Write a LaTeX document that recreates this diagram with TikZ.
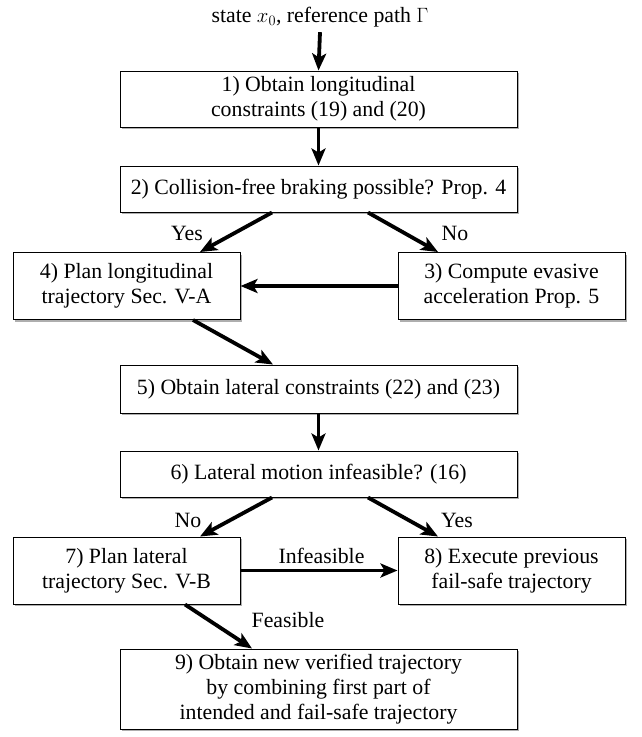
\documentclass[tikz,border=0pt]{standalone}
\usepackage{fontspec}
\setmainfont{Liberation Serif}
\usetikzlibrary{arrows.meta,shadows}
\begin{document}
\begin{tikzpicture}[x=1pt,y=-1pt,
  box/.style={draw, line width=1pt, fill=white, align=center, inner xsep=4pt, inner ysep=2pt,
    font=\fontsize{21.8}{24.8}\selectfont,
    drop shadow={shadow xshift=2.2pt, shadow yshift=-2.2pt, opacity=0.45, fill=black!70}},
  wide/.style={box, minimum width=397pt},
  half/.style={box, minimum width=227pt, minimum height=67pt},
  arr/.style={line width=3.8pt, -{Stealth[length=17pt,width=14pt,inset=4pt]}},
  lbl/.style={font=\fontsize{21.8}{24.8}\selectfont, inner sep=0pt}]
\useasboundingbox (0,0) rectangle (641,737);

\node[lbl] (t) at (320,17) {state $x_0$, reference path $\Gamma$};
\node[wide, minimum height=56pt] (b1) at (318.5,99) {1) Obtain longitudinal\\constraints (19) and (20)};
\node[wide, minimum height=46pt] (b2) at (318.5,189) {2) Collision-free braking possible? Prop. 4};
\node[half] (b4) at (126.5,286) {4) Plan longitudinal\\trajectory Sec. V-A};
\node[half] (b3) at (511.5,286) {3) Compute evasive\\acceleration Prop. 5};
\node[wide, minimum height=48pt] (b5) at (318.5,389) {5) Obtain lateral constraints (22) and (23)};
\node[wide, minimum height=46pt] (b6) at (318.5,474) {6) Lateral motion infeasible? (16)};
\node[half] (b7) at (126.5,570.5) {7) Plan lateral\\trajectory Sec. V-B};
\node[half] (b8) at (511.5,570.5) {8) Execute previous\\fail-safe trajectory};
\node[wide, minimum height=80pt] (b9) at (318.5,689) {9) Obtain new verified trajectory\\by combining first part of\\intended and fail-safe trajectory};

\draw[arr] ([yshift=-5pt]t.south) -- (b1.north);
\draw[arr] (b1.south) -- (b2.north);
\draw[arr] ([xshift=-46.5pt]b2.south) -- ([xshift=73.5pt]b4.north);
\draw[arr] ([xshift=49.5pt]b2.south) -- ([xshift=-73.5pt]b3.north);
\draw[arr] (b3.west) -- (b4.east);
\draw[arr] ([xshift=66.5pt]b4.south) -- ([xshift=-45.5pt]b5.north);
\draw[arr] (b5.south) -- (b6.north);
\draw[arr] ([xshift=-46.5pt]b6.south) -- ([xshift=73.5pt]b7.north);
\draw[arr] ([xshift=49.5pt]b6.south) -- ([xshift=-73.5pt]b8.north);
\draw[arr] (b7.east) -- (b8.west);
\draw[arr] ([xshift=58.5pt]b7.south) -- ([xshift=-66.5pt]b9.north);

\node[lbl] (ly1) at (187,233) {Yes};
\node[lbl] (ln1) at (455,233) {No};
\node[lbl] (ln2) at (188,520) {No};
\node[lbl] (ly2) at (457,520) {Yes};
\node[lbl] (linf) at (321.5,556) {Infeasible};
\node[lbl] (lfea) at (288,620) {Feasible};
\end{tikzpicture}
\end{document}
